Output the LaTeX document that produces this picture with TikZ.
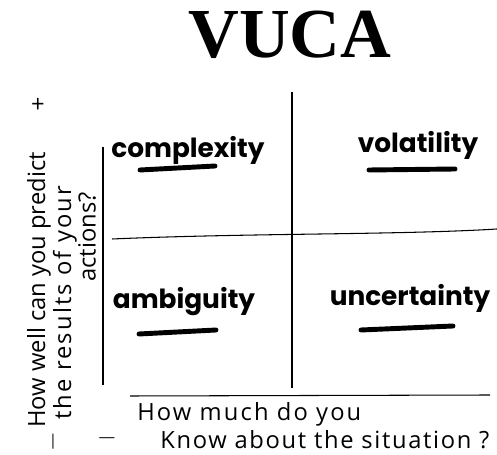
\documentclass[tikz,border=0pt]{standalone}
\usepackage{fontspec}
\setmainfont{Open Sans}
\newfontfamily\titlefont{Liberation Serif}
\newfontfamily\markerfont{Poppins}
\newfontfamily\wideopen[LetterSpace=9]{Open Sans}
\newfontfamily\halfwideopen[LetterSpace=7]{Open Sans}
\usetikzlibrary{positioning}

\begin{document}
\begin{tikzpicture}[x=0.02cm,y=-0.02cm,
  quad/.style={font=\markerfont\bfseries\fontsize{15}{15}\selectfont,inner sep=0pt},
  ulbar/.style={line width=2.8pt,line cap=round},
  axis/.style={line width=0.6pt},
  hand/.style={font=\fontsize{13.5}{14}\selectfont,inner sep=0pt},
  widehand/.style={font=\wideopen\fontsize{13.5}{14}\selectfont,inner sep=0pt}]
\useasboundingbox (0,0) rectangle (497,455);

\node[font=\titlefont\bfseries\fontsize{40}{40}\selectfont,inner sep=0pt] at (290,35) (title) {VUCA};

\coordinate (vt) at (292,92);
\coordinate (vb) at (292,388);
\coordinate (hl) at (112,239);
\coordinate (hr) at (497,229);
\coordinate (yt) at (103,147);
\coordinate (yb) at (103,385);
\coordinate (xl) at (130,396);
\coordinate (xr) at (490,395);

\draw[axis] (vt) -- (vb);
\draw[axis] (hl) .. controls (250,233) and (400,235) .. (hr);
\draw[axis] (yt) -- (yb);
\draw[axis] (xl) -- (xr);

\node[quad] at (188,150) (cx) {complexity};
\node[quad] at (418,145) (vo) {volatility};
\node[quad] at (184,302) (am) {ambiguity};
\node[quad] at (410,298) (un) {uncertainty};

\coordinate (cx1) at (140,170);
\coordinate (cx2) at (215,166);
\coordinate (vo1) at (369,170);
\coordinate (vo2) at (455,169);
\coordinate (am1) at (139,334);
\coordinate (am2) at (216,330);
\coordinate (un1) at (361,330);
\coordinate (un2) at (453,326);
\draw[ulbar] (cx1) -- (cx2);
\draw[ulbar] (vo1) -- (vo2);
\draw[ulbar] (am1) -- (am2);
\draw[ulbar] (un1) -- (un2);

\node[hand,rotate=90,anchor=west] at (39,428) (q1) {How well can you predict};
\node[widehand,rotate=90,anchor=west] at (65,420) (q2) {the results of your};
\node[hand,rotate=90,anchor=west] at (87,282) (q3) {actions?};
\node[hand] at (38,105) (plus) {+};
\node[hand,rotate=90] at (53,442) (minus) {$-$};

\node[widehand,anchor=west] at (137,414) (k1) {How much do you};
\node[hand,font=\halfwideopen\fontsize{13.5}{14}\selectfont,anchor=west] at (160,440) (k2) {Know about the situation ?};
\node[hand] at (107,438) (xminus) {$-$};
\end{tikzpicture}
\end{document}
